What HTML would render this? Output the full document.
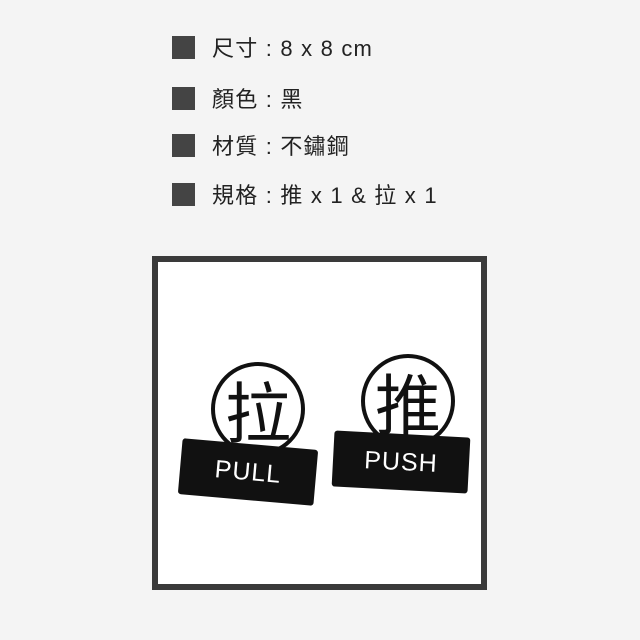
<!DOCTYPE html>
<html><head><meta charset="utf-8"><style>
body{margin:0;width:640px;height:640px;background:#f4f4f4;position:relative;overflow:hidden;font-family:"Liberation Sans","Noto Sans CJK TC",sans-serif;}
.row{position:absolute;left:172px;height:24px;display:flex;align-items:center;font-size:22px;color:#222;letter-spacing:1.2px;white-space:pre;}
.row i{display:block;width:23px;height:23px;background:#444;margin-right:17px;}
.frame{position:absolute;left:152px;top:256px;width:323px;height:322px;border:6px solid #3a3a3a;background:#fff;}
.circ{position:absolute;width:86px;height:86px;border:4px solid #111;border-radius:50%;font-size:66px;line-height:86px;text-align:center;color:#111;font-family:"Noto Sans CJK TC",sans-serif;}
.plate{position:absolute;background:#111;color:#fff;font-size:25px;letter-spacing:1px;text-align:center;border-radius:3px;}
</style></head><body>
<div class="row" style="top:35px"><i></i>尺寸 : 8 x 8 cm</div>
<div class="row" style="top:86px"><i></i>顏色 : 黑</div>
<div class="row" style="top:133px"><i></i>材質 : 不鏽鋼</div>
<div class="row" style="top:182px"><i></i>規格 : 推 x 1 &amp; 拉 x 1</div>
<div class="frame"></div>
<div class="circ" style="left:211px;top:362px">拉</div>
<div class="plate" style="left:180px;top:444px;width:136px;height:56px;line-height:56px;transform:rotate(5deg)">PULL</div>
<div class="circ" style="left:361px;top:354px">推</div>
<div class="plate" style="left:333px;top:434px;width:136px;height:56px;line-height:56px;transform:rotate(3deg)">PUSH</div>
</body></html>
